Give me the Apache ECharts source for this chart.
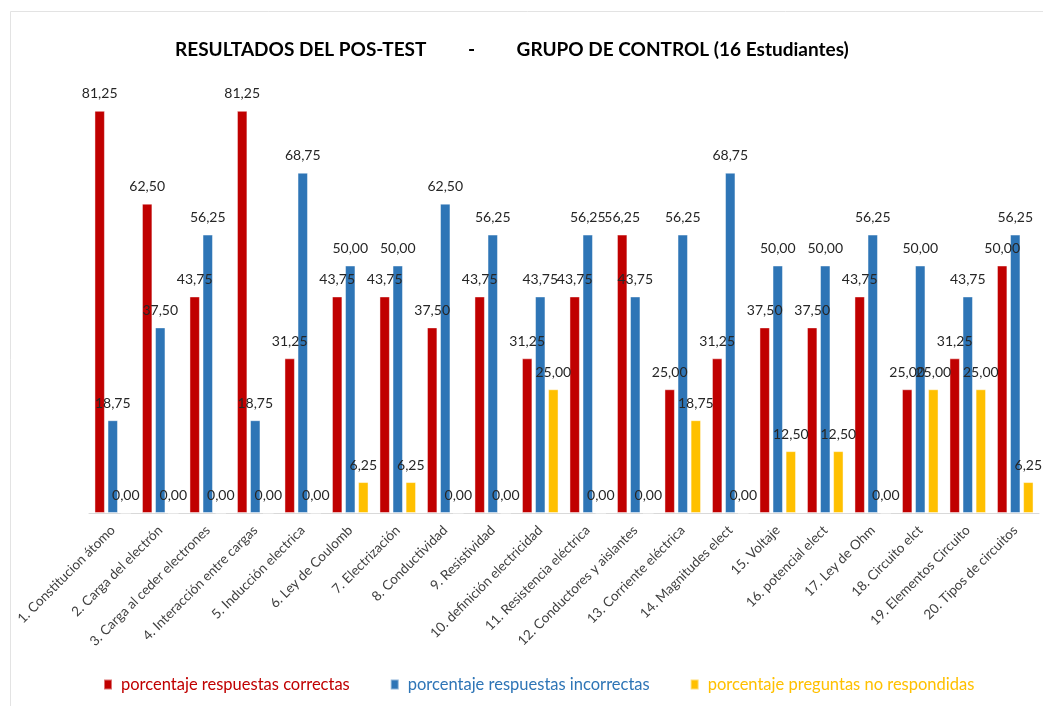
<!DOCTYPE html>
<html>
<head>
<meta charset="utf-8">
<script src="https://cdn.jsdelivr.net/npm/echarts@6/dist/echarts.min.js"></script>
<style>
  html, body { margin: 0; padding: 0; background: #fff; }
  #chart { width: 1043px; height: 706px; }
</style>
</head>
<body>
<div id="chart"></div>
<script>
// categories (questions)
const categories = [
  '1. Constitucion átomo', '2. Carga del electrón', '3. Carga al ceder electrones',
  '4. Interacción entre cargas', '5. Inducción electrica', '6. Ley de Coulomb',
  '7. Electrización', '8. Conductividad', '9. Resistividad', '10. definición electricidad',
  '11. Resistencia eléctrica', '12. Conductores y aislantes', '13. Corriente eléctrica',
  '14. Magnitudes elect', '15. Voltaje', '16. potencial elect', '17. Ley de Ohm',
  '18. Circuito elct', '19. Elementos Circuito', '20. Tipos de circuitos'
]
// series values
const correctas = [81.25, 62.50, 43.75, 81.25, 31.25, 43.75, 43.75, 37.50, 43.75, 31.25,
  43.75, 56.25, 25.00, 31.25, 37.50, 37.50, 43.75, 25.00, 31.25, 50.00]
const incorrectas = [18.75, 37.50, 56.25, 18.75, 68.75, 50.00, 50.00, 62.50, 56.25, 43.75,
  56.25, 43.75, 56.25, 68.75, 50.00, 50.00, 56.25, 50.00, 43.75, 56.25]
const noRespondidas = [0, 0, 0, 0, 0, 6.25, 6.25, 0, 0, 25.00,
  0, 0, 18.75, 0, 12.50, 12.50, 0, 25.00, 25.00, 6.25]

const seriesNames = [
  'porcentaje respuestas correctas',
  'porcentaje respuestas incorrectas',
  'porcentaje preguntas no respondidas'
]
const colors = ['#C00000', '#2E75B6', '#FFC000']
const font = 'Lato, "Open Sans", sans-serif'

const chart = echarts.init(document.getElementById('chart'))

function makeSeries(name, data, color) {
  return {
    name: name,
    type: 'bar',
    data: data,
    barGap: '25%',
    barCategoryGap: '23%',
    itemStyle: {
      color: color,
      borderColor: 'rgba(255,255,255,0.45)',
      borderWidth: 1
    },
    label: {
      show: true,
      position: 'top',
      distance: 10,
      color: '#262626',
      fontFamily: font,
      fontSize: 14,
      formatter: p => p.value.toFixed(2).replace('.', ',')
    }
  }
}

chart.setOption({
  animation: false,
  title: {
    text: 'RESULTADOS DEL POS-TEST         -         GRUPO DE CONTROL (16 Estudiantes)',
    left: 170,
    top: 35,
    textStyle: {
      fontFamily: font,
      fontWeight: 'bold',
      fontSize: 19,
      color: '#000'
    }
  },
  graphic: [{
    type: 'rect',
    shape: { x: 10.5, y: 11.5, width: 1040, height: 700 },
    style: { fill: 'none', stroke: '#e3e3e3', lineWidth: 1 },
    silent: true
  }],
  legend: {
    bottom: 8,
    left: 98,
    itemWidth: 8,
    itemHeight: 10,
    itemGap: 40,
    icon: 'rect',
    textStyle: { fontFamily: font, fontSize: 16.5, padding: [0, 0, 0, 4] },
    data: seriesNames.map((n, i) => ({ name: n, textStyle: { color: colors[i] } }))
  },
  grid: {
    left: 89,
    right: 4,
    top: 18,
    bottom: 193
  },
  xAxis: {
    type: 'category',
    data: categories,
    axisLine: { lineStyle: { color: '#d9d9d9' } },
    axisTick: { show: false },
    axisLabel: {
      interval: 0,
      rotate: 45,
      margin: 15,
      color: '#404040',
      fontFamily: font,
      fontSize: 13.5
    }
  },
  yAxis: {
    type: 'value',
    min: 0,
    max: 100,
    show: false
  },
  series: [
    makeSeries(seriesNames[0], correctas, colors[0]),
    makeSeries(seriesNames[1], incorrectas, colors[1]),
    makeSeries(seriesNames[2], noRespondidas, colors[2])
  ]
})
</script>
</body>
</html>
